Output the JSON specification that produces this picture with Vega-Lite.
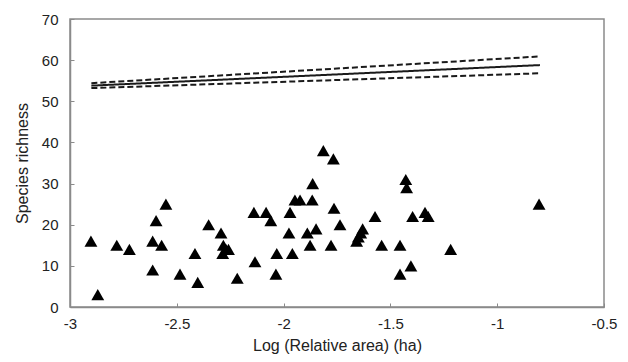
{
  "$schema": "https://vega.github.io/schema/vega-lite/v6.json",
  "width": 534,
  "height": 288,
  "autosize": "none",
  "padding": {"left": 70, "top": 19, "right": 24, "bottom": 55},
  "background": "white",
  "config": {
    "view": {"stroke": "#8a8a8a", "strokeWidth": 1.5},
    "axis": {
      "labelFont": "Liberation Sans",
      "titleFont": "Liberation Sans",
      "labelFontSize": 15,
      "titleFontSize": 16,
      "titleFontWeight": "normal",
      "labelColor": "#222",
      "titleColor": "#222",
      "domainColor": "#8a8a8a",
      "domainWidth": 1.5,
      "tickColor": "#8a8a8a",
      "tickWidth": 1,
      "grid": false,
      "labelFlush": false
    }
  },
  "datasets": {
    "pts": [
      {"x": -2.902, "y": 16}, {"x": -2.870, "y": 3}, {"x": -2.781, "y": 15}, {"x": -2.722, "y": 14},
      {"x": -2.613, "y": 9}, {"x": -2.613, "y": 16}, {"x": -2.597, "y": 21}, {"x": -2.571, "y": 15},
      {"x": -2.551, "y": 25}, {"x": -2.485, "y": 8}, {"x": -2.402, "y": 6}, {"x": -2.415, "y": 13},
      {"x": -2.351, "y": 20}, {"x": -2.293, "y": 18}, {"x": -2.282, "y": 15}, {"x": -2.270, "y": 14},
      {"x": -2.258, "y": 14}, {"x": -2.285, "y": 13}, {"x": -2.217, "y": 7}, {"x": -2.139, "y": 23},
      {"x": -2.134, "y": 11}, {"x": -2.082, "y": 23}, {"x": -2.060, "y": 21}, {"x": -2.036, "y": 8},
      {"x": -2.032, "y": 13}, {"x": -1.975, "y": 18}, {"x": -1.970, "y": 23}, {"x": -1.959, "y": 13},
      {"x": -1.947, "y": 26}, {"x": -1.923, "y": 26}, {"x": -1.889, "y": 18}, {"x": -1.876, "y": 15},
      {"x": -1.864, "y": 30}, {"x": -1.866, "y": 26}, {"x": -1.848, "y": 19}, {"x": -1.814, "y": 38},
      {"x": -1.767, "y": 36}, {"x": -1.764, "y": 24}, {"x": -1.778, "y": 15}, {"x": -1.736, "y": 20},
      {"x": -1.658, "y": 16}, {"x": -1.650, "y": 17}, {"x": -1.639, "y": 18}, {"x": -1.630, "y": 19},
      {"x": -1.572, "y": 22}, {"x": -1.541, "y": 15}, {"x": -1.455, "y": 15}, {"x": -1.455, "y": 8},
      {"x": -1.428, "y": 31}, {"x": -1.424, "y": 29}, {"x": -1.404, "y": 10}, {"x": -1.396, "y": 22},
      {"x": -1.338, "y": 23}, {"x": -1.323, "y": 22}, {"x": -1.218, "y": 14}, {"x": -0.804, "y": 25}
    ],
    "fit": [
      {"x": -2.90, "y": 53.8, "s": "fit"}, {"x": -0.80, "y": 58.8, "s": "fit"},
      {"x": -2.90, "y": 54.4, "s": "upper"}, {"x": -0.80, "y": 60.9, "s": "upper"},
      {"x": -2.90, "y": 53.2, "s": "lower"}, {"x": -0.80, "y": 56.8, "s": "lower"}
    ]
  },
  "encoding": {
    "x": {
      "field": "x", "type": "quantitative",
      "scale": {"domain": [-3, -0.5], "nice": false, "zero": false},
      "axis": {"title": "Log (Relative area) (ha)", "values": [-3, -2.5, -2, -1.5, -1, -0.5], "labelExpr": "replace(format(datum.value, '~g'), '\u2212', '-')", "tickSize": -4, "labelPadding": 13, "titlePadding": 6}
    },
    "y": {
      "field": "y", "type": "quantitative",
      "scale": {"domain": [0, 70], "nice": false},
      "axis": {"title": "Species richness", "values": [0, 10, 20, 30, 40, 50, 60, 70], "tickSize": -4, "labelPadding": 16, "titlePadding": 11}
    }
  },
  "layer": [
    {
      "data": {"name": "fit"},
      "mark": {"type": "line", "color": "#1a1a1a", "strokeWidth": 2},
      "encoding": {
        "detail": {"field": "s"},
        "strokeDash": {
          "field": "s", "type": "nominal",
          "scale": {"domain": ["fit", "upper", "lower"], "range": [[1, 0], [6, 3], [6, 3]]},
          "legend": null
        }
      }
    },
    {
      "data": {"name": "pts"},
      "mark": {"type": "point", "shape": "triangle-up", "filled": true, "color": "#000", "size": 165, "opacity": 1}
    }
  ]
}
